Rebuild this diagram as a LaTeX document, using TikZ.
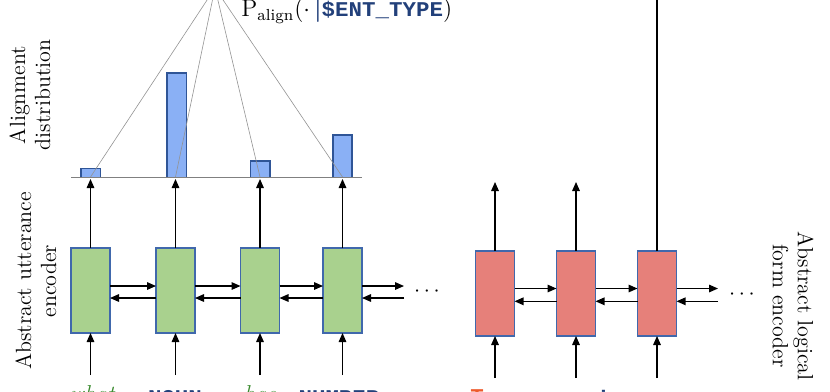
\documentclass[tikz,border=0pt]{standalone}
\usepackage{fontspec}
\usepackage{graphicx}
\newfontfamily\monofnt{Liberation Mono}
\usetikzlibrary{arrows.meta}
\definecolor{gfill}{HTML}{A9D18E}
\definecolor{rfill}{HTML}{E6807A}
\definecolor{bfill}{HTML}{8AB0F5}
\definecolor{bedge}{HTML}{2F5597}
\definecolor{boxedge}{HTML}{4068AC}
\definecolor{tokblue}{HTML}{22407A}
\definecolor{tokgreen}{HTML}{3A8A2E}
\definecolor{tokred}{HTML}{EE5A2C}
\newcommand{\tokfmt}[1]{\scalebox{1.07}[1]{\fontsize{10.5}{12}\monofnt\bfseries #1}}
\begin{document}
\begin{tikzpicture}[x=0.5pt,y=-0.5pt,
  gbox/.style={draw=boxedge, fill=gfill, line width=0.6pt, minimum width=19.5pt, minimum height=42.5pt, inner sep=0pt, outer sep=0pt},
  rbox/.style={gbox, fill=rfill},
  arr/.style={-{Triangle[length=4.5pt,width=3.8pt]}, line width=0.6pt},
  guide/.style={draw=gray!85, line width=0.3pt},
  bar/.style={draw=bedge, fill=bfill, line width=0.7pt},
  lbl/.style={font=\fontsize{11}{12.5}\selectfont, align=center, inner sep=0pt},
  dotsnode/.style={font=\fontsize{11}{12}\selectfont, inner sep=0pt},
  greenword/.style={anchor=base, inner sep=0pt, font=\fontsize{11.5}{12}\selectfont\itshape, text=tokgreen},
  blueword/.style={anchor=base, inner sep=0pt, text=tokblue},
]
\useasboundingbox (0,0) rectangle (830,391);

% ---------- green encoder ----------
\foreach \i/\x in {1/90.5,2/175.5,3/260,4/342.5}{
  \node[gbox] (g\i) at (\x,290.5) {};
  \coordinate (gu\i) at (\x,179);
  \coordinate (gb\i) at (\x,177);
  \coordinate (gin\i) at (\x,375);
}
\coordinate (ge4) at (404,290.5);

\foreach \a/\b in {g1/g2,g2/g3,g3/g4}{
  \draw[arr] ([yshift=2.25pt]\a.east) -- ([yshift=2.25pt]\b.west);
  \draw[arr] ([yshift=-3.75pt]\b.west) -- ([yshift=-3.75pt]\a.east);
}
\draw[arr] ([yshift=2.25pt]g4.east) -- ([yshift=2.25pt]ge4);
\draw[arr] ([yshift=-3.75pt]ge4) -- ([yshift=-3.75pt]g4.east);
\node[dotsnode] (gdots) at (427,292) {$\cdots$};

\foreach \i in {1,2,3,4}{
  \draw[arr] (g\i.north) -- (gu\i);
  \draw[arr] (gin\i) -- (g\i.south);
}

% ---------- alignment distribution ----------
\draw[bar] (81,168.7) rectangle (100.3,177.3);
\draw[bar] (167,73) rectangle (186.7,177.3);
\draw[bar] (250.5,161) rectangle (270,177.3);
\draw[bar] (333,135) rectangle (352,177.3);
\draw[gray, line width=0.8pt] (71,177.3) -- (362,177.3);

\coordinate (apex) at (215,-12);
\foreach \i in {1,2,3,4}{
  \draw[guide] (apex) -- (gb\i);
}

\node[anchor=base west, inner sep=0pt, font=\fontsize{12}{13}\selectfont] (palign) at (241,17)
  {$\mathrm{P}_{\mathrm{align}}(\cdot\,$\textcolor{tokblue}{\textbf{|}\tokfmt{\$ENT\_TYPE}}$)$};

% ---------- red encoder ----------
\foreach \i/\x in {1/495,2/576,3/657}{
  \node[rbox] (r\i) at (\x,293.5) {};
  \coordinate (ru\i) at (\x,182);
  \coordinate (rin\i) at (\x,378);
}
\coordinate (re3) at (718,293.5);
\coordinate (rtop) at (657,-10);

\foreach \a/\b in {r1/r2,r2/r3}{
  \draw[arr] ([yshift=2.5pt]\a.east) -- ([yshift=2.5pt]\b.west);
  \draw[arr] ([yshift=-3.9pt]\b.west) -- ([yshift=-3.9pt]\a.east);
}
\draw[arr] ([yshift=2.5pt]r3.east) -- ([yshift=2.5pt]re3);
\draw[arr] ([yshift=-3.9pt]re3) -- ([yshift=-3.9pt]r3.east);
\node[dotsnode] (rdots) at (742,295) {$\cdots$};

\draw[arr] (r1.north) -- (ru1);
\draw[arr] (r2.north) -- (ru2);
\draw[line width=0.6pt] (r3.north) -- (rtop);
\foreach \i in {1,2,3}{
  \draw[arr] (rin\i) -- (r\i.south);
}

% ---------- side labels ----------
\node[lbl, rotate=90] (lalign) at (30,95) {Alignment\\distribution};
\node[lbl, rotate=90] (lutt) at (36,281) {Abstract utterance\\encoder};
\node[lbl, rotate=-90] (llf) at (793,306) {Abstract logical\\form encoder};

% ---------- input tokens (cut by the frame) ----------
\node[greenword] (w1) at (92,401) {what};
\node[blueword] (w2) at (175,404) {\tokfmt{NOUN}};
\node[greenword] (w3) at (260,401) {has};
\node[blueword] (w4) at (339,404) {\tokfmt{NUMBER}};
\node[anchor=base, inner sep=0pt, text=tokred] (w5) at (477,403) {\tokfmt{T}};
\node[blueword] (w6) at (603,405) {\tokfmt{i}};
\end{tikzpicture}
\end{document}
